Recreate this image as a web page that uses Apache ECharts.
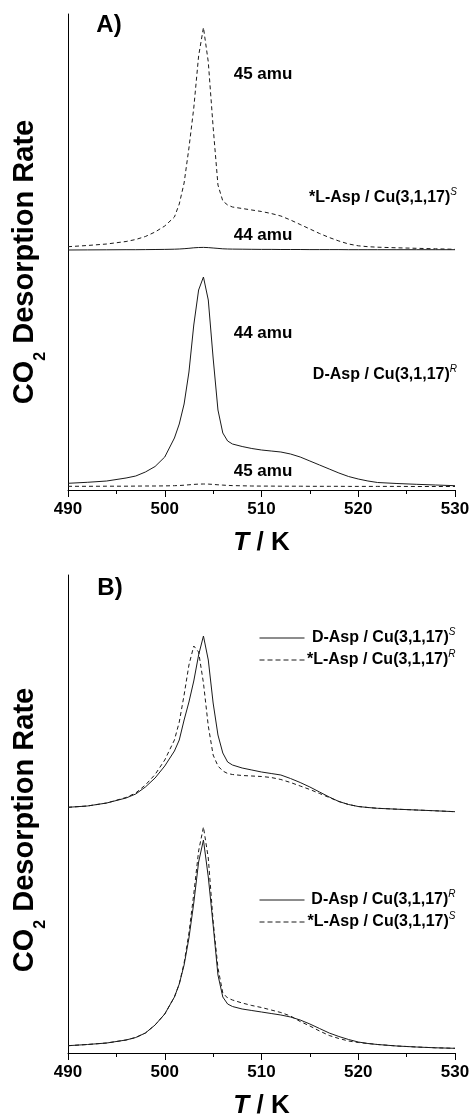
<!DOCTYPE html>
<html>
<head>
<meta charset="utf-8">
<script src="https://cdn.jsdelivr.net/npm/echarts@6/dist/echarts.min.js"></script>
<style>
html,body{margin:0;padding:0;background:#fff;}
#chart{width:476px;height:1117px;}
</style>
</head>
<body>
<div id="chart"></div>
<script>
// temperature grid (K) shared by all traces
var temps = [490,492,494,496,497,498,499,500,501,501.5,502,502.5,503,503.5,504,504.5,505,505.5,506,506.5,
             507,508,509,510,511,512,513,514,515,516,517,518,519,520,521,522,524,526,528,530];

// panel A, *L-Asp / Cu(3,1,17)^S (offset trace)
var a45L = [243.3,244.5,246,248.5,250.5,253.5,258,264,273,286,307,342,382,434,462.5,428,363,305,289,285,
            283,281.5,280,278.5,276.5,274,270,265.5,261,256.5,252.5,249,246,244.2,243.3,242.8,242.2,241.7,241.2,240.7];
var a44L = [240,240.1,240.2,240.3,240.3,240.4,240.5,240.6,240.8,241,241.3,241.7,242.2,242.5,242.6,242.4,242,241.6,241.2,241,
            240.9,240.8,240.7,240.6,240.6,240.5,240.5,240.5,240.4,240.4,240.4,240.4,240.3,240.3,240.3,240.3,240.3,240.3,240.3,240.3];
// panel A, D-Asp / Cu(3,1,17)^R
var a44D = [6.7,7.7,9,12,14,18,23.5,33,52,66,86,118,165,200,213,190,132,80,57,49,
            46,43.5,41.5,40,39,38,36,33,29,25,21,17,13.5,11,9,7.5,6.5,5.7,5,4.3];
var a45D = [3.7,3.7,3.8,3.8,3.9,4,4,4.1,4.3,4.5,4.8,5.2,5.6,5.9,6,5.9,5.6,5.2,4.9,4.6,
            4.4,4.2,4,3.9,3.9,3.8,3.8,3.8,3.7,3.7,3.7,3.7,3.6,3.6,3.6,3.6,3.6,3.5,3.5,3.5];

// panel B
var bDS = [245.7,247,250,255,259,266,275,287,302,313,333,351,372,398,417,393,350,318,300,291,
           288,285,283,281,279.5,278,274.5,270.5,266,261,256,251.5,248.5,246.5,245.5,244.7,243.8,243,242.2,241.3];
var bLR = [245.7,247,250,255.5,260,268,278.5,293,313,331,358,388,407,401,370,327,298,287,282,279.5,
           278.5,277.5,277,276.5,275.5,273.5,270.5,267,263.5,259.5,255.5,251.5,248.5,246.5,245.5,244.7,243.8,243,242.2,241.3];
var bDR = [7.3,8.5,10,13,15.5,20,28,39,56,69,88,115,150,191,213,176,128,78,56,49,
           46.5,44,42.5,41,39.5,38,36,33,29,24.5,20,16.5,13.5,11,9.5,8.5,7,6,5.2,4.7];
var bLS = [7.3,8.5,10,13,15.5,20,28,39,56,69,90,120,159,202,226,195,132,85,60,55,
           53,50,47.5,45.5,43,40.5,37,31.5,27,22,17.5,14.5,12,10.5,9.5,8.5,7,6,5.2,4.7];

var xMin = 490, xMax = 530, xStep = 10;
var yMaxA = 476, yMaxB = 478;

var namesTop = ['D-Asp / Cu(3,1,17)^S', '*L-Asp / Cu(3,1,17)^R'];
var namesBot = ['D-Asp / Cu(3,1,17)^R', '*L-Asp / Cu(3,1,17)^S'];

var font = '"Liberation Sans", Arial, Helvetica, sans-serif';
var ink = '#1a1a1a';
var dash = [4, 3];

function pairs(ys) {
    return temps.map(function (t, i) { return [t, ys[i]]; });
}
function trace(name, ys, idx, dashed) {
    return {
        name: name, type: 'line', xAxisIndex: idx, yAxisIndex: idx,
        data: pairs(ys), symbol: 'none', showSymbol: false, silent: true,
        itemStyle: { color: ink },
        lineStyle: { color: ink, width: 1, type: dashed ? dash : 'solid' }
    };
}
function rich(name) {
    var p = name.split('^');
    return '{t|' + p[0] + '}{sup|' + p[1] + '}';
}
var richLabel = {
    t: { fontFamily: font, fontWeight: 'bold', fontSize: 16, color: '#000', lineHeight: 22, align: 'right' },
    sup: { fontFamily: font, fontStyle: 'italic', fontSize: 10, color: '#000', verticalAlign: 'top', lineHeight: 22, align: 'right' }
};

function xAxis(idx) {
    return {
        type: 'value', gridIndex: idx, min: xMin, max: xMax, interval: xStep,
        axisLine: { show: true, lineStyle: { color: '#000', width: 1 } },
        axisTick: { show: true, inside: false, length: 7, lineStyle: { color: '#000' } },
        minorTick: { show: true, splitNumber: 2, length: 4, lineStyle: { color: '#000' } },
        splitLine: { show: false }, minorSplitLine: { show: false },
        axisLabel: { fontFamily: font, fontWeight: 'bold', fontSize: 17, color: '#000', margin: 11 },
        name: '{i|T}{n| / K}', nameLocation: 'middle', nameGap: 40,
        nameTextStyle: {
            rich: {
                i: { fontFamily: font, fontWeight: 'bold', fontStyle: 'italic', fontSize: 26, color: '#000' },
                n: { fontFamily: font, fontWeight: 'bold', fontSize: 26, color: '#000' }
            }
        }
    };
}
function yAxis(idx, max, shift) {
    return {
        type: 'value', gridIndex: idx, min: 0, max: max,
        axisLine: { show: true, lineStyle: { color: '#000', width: 1 } },
        axisTick: { show: false }, axisLabel: { show: false }, splitLine: { show: false },
        name: '{m|CO}{s|2}{m| Desorption Rate}', nameLocation: 'middle', nameRotate: 90, nameGap: 19,
        nameTextStyle: {
            padding: [0, shift, 0, 0],
            rich: {
                m: { fontFamily: font, fontWeight: 'bold', fontSize: 29, color: '#000', lineHeight: 33 },
                s: { fontFamily: font, fontWeight: 'bold', fontSize: 16, color: '#000', verticalAlign: 'bottom', lineHeight: 48 }
            }
        }
    };
}
function legend(names, top) {
    return {
        data: [
            { name: names[0], lineStyle: { color: ink, width: 1, type: 'solid' } },
            { name: names[1], lineStyle: { color: ink, width: 1, type: [5, 3] } }
        ],
        orient: 'vertical', left: 259, top: top, padding: 0,
        itemWidth: 45, itemHeight: 14, itemGap: 3, selectedMode: false,
        itemStyle: { opacity: 0 },
        formatter: rich,
        textStyle: { width: 146, rich: richLabel }
    };
}
function label(x, y, text, size, align) {
    return {
        type: 'text', x: x, y: y, silent: true,
        style: { text: text, font: 'bold ' + size + 'px ' + font, fill: '#000', align: align || 'center', verticalAlign: 'middle' }
    };
}
function richText(x, y, name) {
    return {
        type: 'text', x: x, y: y, silent: true,
        style: { text: rich(name), rich: richLabel, width: 146, align: 'right', verticalAlign: 'middle' }
    };
}

var chart = echarts.init(document.getElementById('chart'));
chart.setOption({
    animation: false,
    backgroundColor: '#fff',
    grid: [
        { left: 68, right: 21, top: 14, height: 476, outerBoundsMode: 'none' },
        { left: 68, right: 21, top: 575, height: 478, outerBoundsMode: 'none' }
    ],
    xAxis: [xAxis(0), xAxis(1)],
    yAxis: [yAxis(0, yMaxA, 20), yAxis(1, yMaxB, 32)],
    legend: [legend(namesTop, 627), legend(namesBot, 889)],
    series: [
        trace('L 45 amu', a45L, 0, true),
        trace('L 44 amu', a44L, 0, false),
        trace('D 44 amu', a44D, 0, false),
        trace('D 45 amu', a45D, 0, true),
        trace(namesTop[0], bDS, 1, false),
        trace(namesTop[1], bLR, 1, true),
        trace(namesBot[0], bDR, 1, false),
        trace(namesBot[1], bLS, 1, true)
    ],
    graphic: [
        label(109, 25, 'A)', 24, 'center'),
        label(110, 588, 'B)', 24, 'center'),
        label(263, 74, '45 amu', 17),
        label(263, 235, '44 amu', 17),
        label(263, 333, '44 amu', 17),
        label(263, 471, '45 amu', 17),
        richText(457, 198, '*L-Asp / Cu(3,1,17)^S'),
        richText(457, 375, 'D-Asp / Cu(3,1,17)^R')
    ]
});
</script>
</body>
</html>
